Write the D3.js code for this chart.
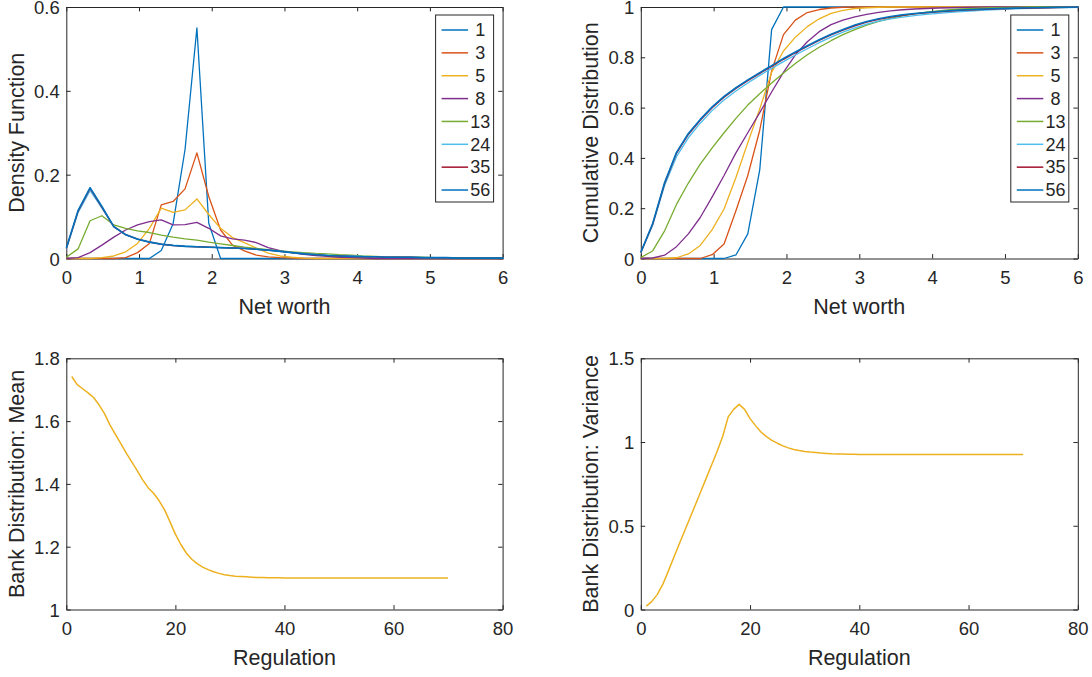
<!DOCTYPE html>
<html><head><meta charset="utf-8">
<script src="https://cdn.jsdelivr.net/npm/d3@7"></script>
<style>
body{margin:0;background:#fff}
svg{display:block}
text{font-family:"Liberation Sans",Arial,Helvetica,sans-serif;fill:#262626}
</style>
</head><body>
<svg id="c" width="1092" height="677"></svg>
<script>
// ---------- data ----------
const netWorth = [0, 0.163, 0.327, 0.49, 0.653, 0.816, 0.98, 1.143, 1.306, 1.469, 1.633, 1.796, 1.959, 2.122, 2.286, 2.449, 2.612, 2.776, 2.939, 3.102, 3.265, 3.429, 3.592, 3.755, 3.918, 4.082, 4.245, 4.408, 4.571, 4.735, 4.898, 5.061, 5.224, 5.388, 5.551, 5.714, 5.878, 6.041];

const seriesNames = ["1", "3", "5", "8", "13", "24", "35", "56"];
const seriesColors = ["#0072BD", "#D95319", "#EDB120", "#7E2F8E", "#77AC30", "#4DBEEE", "#A2142F", "#0072BD"];

// density (probability per net-worth bin)
const dens1  = [0,0,0,0,0,0,0,0,0.019,0.083,0.26,0.55,0.084,0,0,0,0,0,0,0,0,0,0,0,0,0,0,0,0,0,0,0,0,0,0,0,0,0];
const dens3  = [0,0,0,0,0,0.002,0.014,0.036,0.128,0.136,0.166,0.252,0.148,0.068,0.032,0.018,0.008,0.004,0.002,0.001,0,0,0,0,0,0,0,0,0,0,0,0,0,0,0,0,0,0];
const dens5  = [0,0,0,0.002,0.006,0.016,0.036,0.072,0.12,0.11,0.116,0.142,0.105,0.072,0.05,0.038,0.025,0.013,0.006,0.003,0.001,0,0,0,0,0,0,0,0,0,0,0,0,0,0,0,0,0];
const dens8  = [0,0.002,0.014,0.032,0.051,0.068,0.08,0.088,0.092,0.08,0.081,0.086,0.072,0.054,0.047,0.044,0.038,0.026,0.019,0.014,0.01,0.007,0.005,0.003,0.002,0.001,0,0,0,0,0,0,0,0,0,0,0,0];
const dens13 = [0.003,0.023,0.09,0.102,0.08,0.072,0.066,0.062,0.056,0.051,0.047,0.044,0.039,0.035,0.031,0.027,0.024,0.021,0.018,0.016,0.014,0.012,0.011,0.009,0.008,0.006,0.005,0.004,0.004,0.003,0.003,0.002,0.002,0.002,0.001,0.001,0.001,0.001];
const dens24 = [0.022,0.11,0.162,0.12,0.076,0.056,0.047,0.04,0.035,0.032,0.03,0.028,0.027,0.026,0.025,0.024,0.022,0.02,0.017,0.014,0.012,0.01,0.008,0.007,0.006,0.005,0.004,0.004,0.003,0.003,0.002,0.002,0.002,0.001,0.001,0.001,0.001,0.001];
const dens35 = [0.024,0.113,0.167,0.122,0.076,0.057,0.046,0.039,0.034,0.031,0.029,0.028,0.027,0.026,0.025,0.024,0.022,0.02,0.017,0.014,0.011,0.009,0.007,0.006,0.005,0.004,0.004,0.003,0.003,0.003,0.002,0.002,0.002,0.001,0.001,0.001,0.001,0.001];
const dens56 = [0.025,0.115,0.169,0.124,0.076,0.057,0.046,0.039,0.034,0.031,0.029,0.028,0.027,0.026,0.025,0.024,0.022,0.02,0.017,0.014,0.011,0.009,0.007,0.006,0.005,0.004,0.004,0.003,0.003,0.003,0.002,0.002,0.002,0.001,0.001,0.001,0.001,0.001];

// cumulative distribution
const cdf1  = [0,0,0,0,0,0,0,0,0.014,0.098,0.352,0.91,1,1,1,1,1,1,1,1,1,1,1,1,1,1,1,1,1,1,1,1,1,1,1,1,1,1];
const cdf3  = [0,0,0,0,0,0,0.015,0.058,0.19,0.33,0.51,0.745,0.89,0.948,0.978,0.99,0.996,0.999,1,1,1,1,1,1,1,1,1,1,1,1,1,1,1,1,1,1,1,1];
const cdf5  = [0,0,0,0.003,0.018,0.052,0.115,0.197,0.322,0.46,0.595,0.74,0.825,0.88,0.922,0.953,0.975,0.987,0.994,0.997,0.999,1,1,1,1,1,1,1,1,1,1,1,1,1,1,1,1,1];
const cdf8  = [0,0.002,0.013,0.047,0.098,0.163,0.245,0.33,0.42,0.5,0.58,0.662,0.74,0.81,0.862,0.902,0.93,0.948,0.961,0.971,0.979,0.985,0.989,0.992,0.994,0.996,0.997,0.998,0.999,1,1,1,1,1,1,1,1,1];
const cdf13 = [0.004,0.03,0.11,0.215,0.3,0.375,0.44,0.5,0.557,0.61,0.655,0.698,0.738,0.775,0.81,0.84,0.866,0.89,0.91,0.928,0.943,0.955,0.965,0.973,0.98,0.985,0.989,0.992,0.994,0.996,0.997,0.998,0.999,1,1,1,1,1];
const cdf24 = [0.022,0.132,0.29,0.405,0.48,0.538,0.588,0.63,0.666,0.698,0.728,0.756,0.783,0.809,0.834,0.858,0.88,0.9,0.917,0.932,0.944,0.953,0.96,0.966,0.971,0.975,0.979,0.982,0.985,0.988,0.99,0.992,0.994,0.995,0.996,0.997,0.998,0.999];
const cdf35 = [0.024,0.136,0.298,0.418,0.493,0.549,0.599,0.641,0.676,0.707,0.736,0.764,0.792,0.818,0.843,0.867,0.889,0.908,0.925,0.94,0.951,0.96,0.967,0.973,0.977,0.981,0.984,0.987,0.989,0.991,0.993,0.994,0.995,0.996,0.997,0.998,0.999,1];
const cdf56 = [0.025,0.139,0.302,0.422,0.497,0.553,0.603,0.645,0.679,0.71,0.739,0.767,0.795,0.821,0.846,0.87,0.892,0.911,0.928,0.942,0.953,0.962,0.969,0.974,0.978,0.982,0.985,0.988,0.99,0.992,0.994,0.995,0.996,0.997,0.998,0.999,0.999,1];

const regulation = [1,2,3,4,5,6,7,8,9,10,11,12,13,14,15,16,17,18,19,20,21,22,23,24,25,26,27,28,29,30,31,32,33,34,35,36,37,38,39,40,41,42,43,44,45,46,47,48,49,50,51,52,53,54,55,56,57,58,59,60,61,62,63,64,65,66,67,68,69,70];
const bankMean = [1.742,1.716,1.703,1.69,1.675,1.652,1.624,1.588,1.558,1.528,1.498,1.47,1.442,1.413,1.388,1.37,1.347,1.318,1.28,1.24,1.207,1.18,1.16,1.146,1.135,1.127,1.12,1.115,1.111,1.108,1.106,1.105,1.104,1.103,1.102,1.102,1.101,1.101,1.101,1.1,1.1,1.1,1.1,1.1,1.1,1.1,1.1,1.1,1.1,1.1,1.1,1.1,1.1,1.1,1.1,1.1,1.1,1.1,1.1,1.1,1.1,1.1,1.1,1.1,1.1,1.1,1.1,1.1,1.1,1.1];
const bankVariance = [0.02,0.047,0.089,0.148,0.226,0.308,0.388,0.467,0.546,0.626,0.706,0.786,0.866,0.946,1.035,1.15,1.195,1.225,1.195,1.14,1.098,1.06,1.032,1.01,0.993,0.977,0.965,0.956,0.949,0.944,0.94,0.937,0.934,0.932,0.93,0.929,0.928,0.927,0.927,0.926,0.925,0.925,0.925,0.925,0.925,0.925,0.925,0.925,0.925,0.925,0.925,0.925,0.925,0.925,0.925,0.925,0.925,0.925,0.925,0.925,0.925,0.925,0.925,0.925,0.925,0.925,0.925,0.925,0.925,0.925];

const netWorthTicks = [0, 1, 2, 3, 4, 5, 6];
const densityTicks = [0, 0.2, 0.4, 0.6];
const cdfTicks = [0, 0.2, 0.4, 0.6, 0.8, 1];
const regulationTicks = [0, 20, 40, 60, 80];
const meanTicks = [1, 1.2, 1.4, 1.6, 1.8];
const varianceTicks = [0, 0.5, 1, 1.5];

const densitySeries = [dens1, dens3, dens5, dens8, dens13, dens24, dens35, dens56];
const cdfSeries = [cdf1, cdf3, cdf5, cdf8, cdf13, cdf24, cdf35, cdf56];

// ---------- drawing ----------
const svg = d3.select("#c");
const AX = "#262626";
const TICK_FONT = 18.5, LABEL_FONT = 21.5, LEG_FONT = 18;
let clipId = 0;

function panel(o) {
  const x = d3.scaleLinear().domain(o.xDomain).range([o.left, o.right]);
  const y = d3.scaleLinear().domain(o.yDomain).range([o.bottom, o.top]);
  const g = svg.append("g");
  const tk = 4.4;

  g.append("rect").attr("x", o.left).attr("y", o.top)
    .attr("width", o.right - o.left).attr("height", o.bottom - o.top)
    .attr("fill", "#fff").attr("stroke", "none");

  function styleAxis(sel, labels) {
    sel.select(".domain").attr("stroke", AX).attr("stroke-width", 1);
    sel.selectAll(".tick line").attr("stroke", AX).attr("stroke-width", 1);
    sel.selectAll(".tick text").attr("fill", AX).style("font-size", TICK_FONT + "px")
      .style("font-family", '"Liberation Sans",Arial,sans-serif');
    if (!labels) sel.selectAll(".tick text").remove();
  }
  const fmt = d => String(d);
  const bAx = g.append("g").attr("transform", `translate(0,${o.bottom})`)
    .call(d3.axisBottom(x).tickValues(o.xTicks).tickFormat(fmt).tickSizeInner(-tk).tickSizeOuter(0).tickPadding(12.8));
  styleAxis(bAx, true);
  const tAx = g.append("g").attr("transform", `translate(0,${o.top})`)
    .call(d3.axisTop(x).tickValues(o.xTicks).tickSizeInner(-tk).tickSizeOuter(0));
  styleAxis(tAx, false);
  const lAx = g.append("g").attr("transform", `translate(${o.left},0)`)
    .call(d3.axisLeft(y).tickValues(o.yTicks).tickFormat(fmt).tickSizeInner(-tk).tickSizeOuter(0).tickPadding(6.5));
  styleAxis(lAx, true);
  lAx.selectAll(".tick text").attr("dy", "0.36em");
  const rAx = g.append("g").attr("transform", `translate(${o.right},0)`)
    .call(d3.axisRight(y).tickValues(o.yTicks).tickSizeInner(-tk).tickSizeOuter(0));
  styleAxis(rAx, false);

  g.append("text").attr("x", (o.left + o.right) / 2).attr("y", o.bottom + 55)
    .attr("text-anchor", "middle").style("font-size", LABEL_FONT + "px").text(o.xLabel);
  g.append("text").attr("transform", `translate(${o.left - 42.5},${(o.top + o.bottom) / 2}) rotate(-90)`)
    .attr("text-anchor", "middle").style("font-size", LABEL_FONT + "px").text(o.yLabel);

  const cid = "clip" + (clipId++);
  svg.append("clipPath").attr("id", cid).append("rect")
    .attr("x", o.left - 1).attr("y", o.top - 1.5)
    .attr("width", o.right - o.left + 2).attr("height", o.bottom - o.top + 3);

  const line = d3.line().x(d => x(d[0])).y(d => y(d[1]));
  const lg = g.append("g").attr("clip-path", `url(#${cid})`);
  o.lines.forEach(l => {
    lg.append("path").datum(d3.zip(l.xs, l.ys))
      .attr("d", line).attr("fill", "none").attr("stroke", l.color)
      .attr("stroke-width", l.width || 1.3).attr("stroke-linejoin", "round");
  });

  if (o.legend) {
    const L = o.right - 9 - 58, T = o.top + 8, W = 58, H = 187;
    const leg = g.append("g");
    leg.append("rect").attr("x", L).attr("y", T).attr("width", W).attr("height", H)
      .attr("fill", "#fff").attr("stroke", AX).attr("stroke-width", 1);
    o.legend.forEach((e, k) => {
      const yy = T + 15 + k * 22.86;
      leg.append("line").attr("x1", L + 6).attr("x2", L + 32.5).attr("y1", yy).attr("y2", yy)
        .attr("stroke", e.color).attr("stroke-width", 1.5);
      leg.append("text").attr("x", L + 44.6).attr("y", yy).attr("dy", "0.35em")
        .attr("text-anchor", "middle").style("font-size", LEG_FONT + "px").text(e.name);
    });
  }
}

const LX0 = 66.3, LX1 = 502.6, RX0 = 640.8, RX1 = 1077.8;
const TY0 = 7, TY1 = 258.5, BY0 = 358.3, BY1 = 609.5;

const multi = arr => arr.map((ys, k) => ({xs: netWorth, ys: ys, color: seriesColors[k], width: k === 7 ? 1.6 : 1.3}));
const legendEntries = seriesNames.map((n, k) => ({name: n, color: seriesColors[k]}));

panel({left: LX0, right: LX1, top: TY0, bottom: TY1, xDomain: [0, 6], yDomain: [0, 0.6],
  xTicks: netWorthTicks, yTicks: densityTicks, xLabel: "Net worth", yLabel: "Density Function",
  lines: multi(densitySeries), legend: legendEntries});
panel({left: RX0, right: RX1, top: TY0, bottom: TY1, xDomain: [0, 6], yDomain: [0, 1],
  xTicks: netWorthTicks, yTicks: cdfTicks, xLabel: "Net worth", yLabel: "Cumulative Distribution",
  lines: multi(cdfSeries), legend: legendEntries});
panel({left: LX0, right: LX1, top: BY0, bottom: BY1, xDomain: [0, 80], yDomain: [1, 1.8],
  xTicks: regulationTicks, yTicks: meanTicks, xLabel: "Regulation", yLabel: "Bank Distribution: Mean",
  lines: [{xs: regulation, ys: bankMean, color: "#EDB120", width: 1.5}]});
panel({left: RX0, right: RX1, top: BY0, bottom: BY1, xDomain: [0, 80], yDomain: [0, 1.5],
  xTicks: regulationTicks, yTicks: varianceTicks, xLabel: "Regulation", yLabel: "Bank Distribution: Variance",
  lines: [{xs: regulation, ys: bankVariance, color: "#EDB120", width: 1.5}]});
</script>
</body></html>
